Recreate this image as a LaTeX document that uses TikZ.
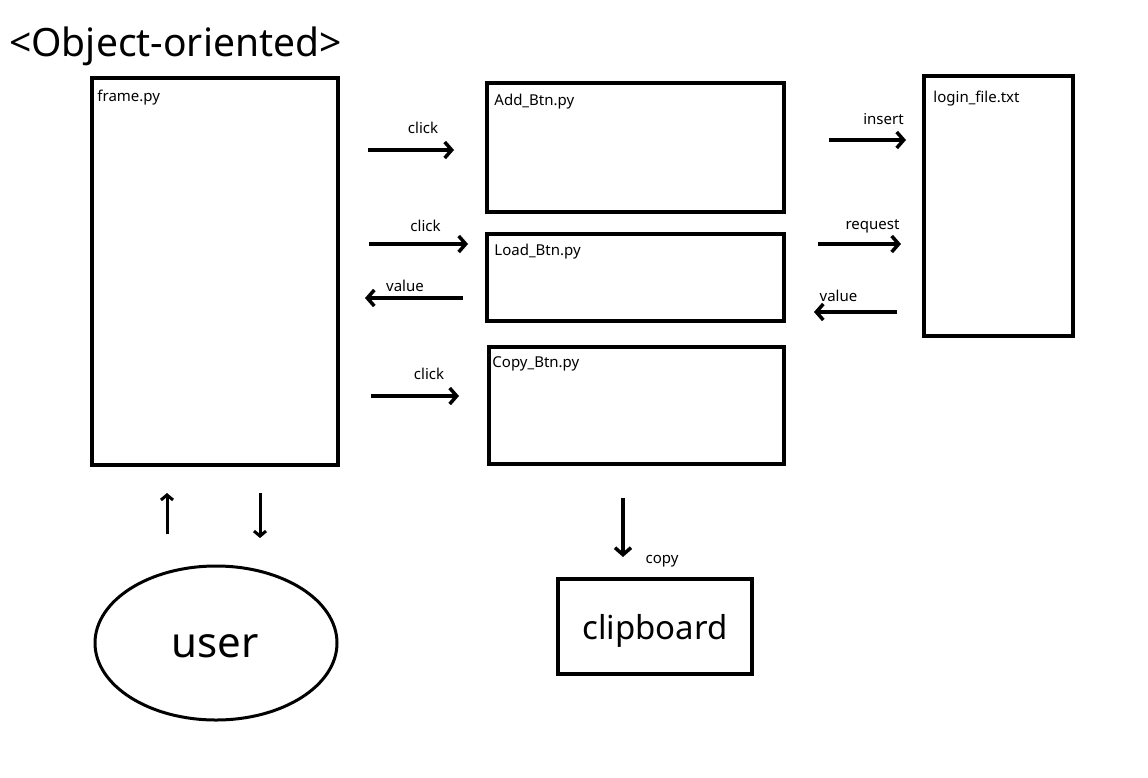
\documentclass[tikz,border=0pt]{standalone}
\usepackage{fontspec}
\setmainfont{Noto Sans}
\usetikzlibrary{arrows.meta}

\begin{document}
\begin{tikzpicture}[x=1pt, y=-1pt,
    box/.style={draw, line width=3.5pt, inner sep=0pt},
    tag/.style={anchor=north west, inner sep=0pt, font=\fontsize{15}{17}\selectfont},
    lbl/.style={inner sep=0pt, font=\fontsize{15}{17}\selectfont},
    flow/.style={line width=3.5pt, -{Straight Barb[length=7pt, width=16pt, line width=3.5pt]}}]
            \useasboundingbox (0,0) rectangle (1148,777);
            \node[anchor=west, inner sep=0pt, font=\fontsize{39}{44}\selectfont] (title) at (9,46) {<Object-oriented>};
            % Boxes
            \node[box, minimum width=246, minimum height=387] (frame) at (215,271.5) {};
            \node[box, minimum width=297, minimum height=129] (add) at (635.5,147.5) {};
            \node[box, minimum width=297, minimum height=87] (load) at (635.5,277.5) {};
            \node[box, minimum width=295, minimum height=117] (copy) at (636.5,405.5) {};
            \node[box, minimum width=149, minimum height=260] (login) at (998.5,206) {};
            \node[box, minimum width=194, minimum height=95] (clip) at (655,626.5) {};
            \node[inner sep=0pt, font=\fontsize{33}{36}\selectfont] (clipT) at (655,631) {clipboard};
            \draw[line width=3pt] (216,643) ellipse (121 and 77);
            \node[inner sep=0pt, font=\fontsize{42}{46}\selectfont] (user) at (215,646) {user};
            % File names
            \node[tag] (frameN) at ([shift={(7,14)}]frame.north west) {frame.py};
            \node[tag] (addN) at ([shift={(9,13)}]add.north west) {Add\_Btn.py};
            \node[tag] (loadN) at ([shift={(9,12)}]load.north west) {Load\_Btn.py};
            \node[tag] (copyN) at ([shift={(5,11)}]copy.north west) {Copy\_Btn.py};
            \node[tag] (loginN) at ([shift={(11,17)}]login.north west) {login\_file.txt};
            % Arrow ends
            \foreach \n/\x/\y in {a1/368/150, a2/454/150, b1/369/244, b2/468/244, c1/463/298, c2/365/298,
                                 d1/371/396, d2/459/396, e1/829/140, e2/906/140, f1/818/244, f2/901/244,
                                 g1/897/312, g2/814/312, h1/623/498, h2/623/557, u1/167/534, u2/167/493,
                                 v1/260/493, v2/260/538} {
                \coordinate (\n) at (\x,\y);
            }
            % Edges
            \draw[flow] (a1) -- (a2) node[lbl, midway, above=15pt, xshift=12pt] (clickA) {click};
            \draw[flow] (b1) -- (b2) node[lbl, midway, above=11pt, xshift=7pt] (clickB) {click};
            \draw[flow] (c1) -- (c2) node[lbl, midway, above=5pt, xshift=-9pt] (valueA) {value};
            \draw[flow] (d1) -- (d2) node[lbl, midway, above=15pt, xshift=14pt] (clickC) {click};
            \draw[flow] (e1) -- (e2) node[lbl, midway, above=14pt, xshift=16pt] (insertA) {insert};
            \draw[flow] (f1) -- (f2) node[lbl, midway, above=9pt, xshift=13pt] (requestA) {request};
            \draw[flow] (g1) -- (g2) node[lbl, midway, above=9pt, xshift=-17pt] (valueB) {value};
            \draw[flow] (h1) -- (h2);
            \node[lbl] (copyL) at (662,561) {copy};
            \draw[flow, line width=3pt, -{Straight Barb[length=5pt, width=12pt, line width=3pt]}] (u1) -- (u2);
            \draw[flow, line width=3pt, -{Straight Barb[length=5pt, width=12pt, line width=3pt]}] (v1) -- (v2);
        \end{tikzpicture}
\end{document}
